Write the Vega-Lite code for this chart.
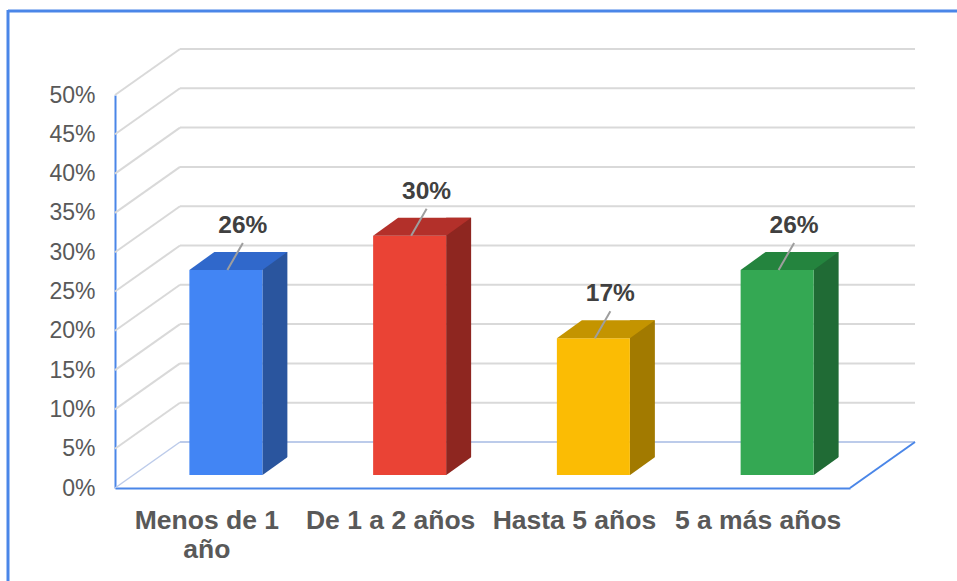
{
  "$schema": "https://vega.github.io/schema/vega-lite/v6.json",
  "width": 735,
  "height": 393,
  "autosize": "none",
  "padding": {"left": 115, "top": 95, "right": 107, "bottom": 93},
  "background": "white",
  "config": {
    "view": {"stroke": null},
    "font": "Liberation Sans",
    "axisY": {"labelOverlap": false, "grid": false, "ticks": false, "domainColor": "#4a86e8", "domainWidth": 2, "zindex": 1,
      "labelFont": "Liberation Sans", "labelFontSize": 23, "labelColor": "#595959", "labelPadding": 20, "title": null},
    "axisX": {"labelOverlap": false, "ticks": false, "domainColor": "#4a86e8", "domainWidth": 2, "zindex": 1, "title": null}
  },
  "datasets": {
    "bars": [
      {"cat": "Menos de 1 año", "v": 0.2609},
      {"cat": "De 1 a 2 años", "v": 0.3043},
      {"cat": "Hasta 5 años", "v": 0.1739},
      {"cat": "5 a más años", "v": 0.2609}
    ],
    "grid": [
      {"v": 0.05}, {"v": 0.1}, {"v": 0.15}, {"v": 0.2}, {"v": 0.25},
      {"v": 0.3}, {"v": 0.35}, {"v": 0.4}, {"v": 0.45}, {"v": 0.5}
    ],
    "floor": [{"v": 0}]
  },
  "resolve": {"scale": {"color": "independent"}},
  "encoding": {
    "y": {"field": "v", "type": "quantitative",
      "scale": {"domain": [0, 0.5], "nice": false, "zero": true},
      "axis": {"title": null, "values": [0, 0.05, 0.1, 0.15, 0.2, 0.25, 0.3, 0.35, 0.4, 0.45, 0.5], "format": ".0%", "labelOverlap": false, "tickCount": 11}}
  },
  "layer": [
    {
      "data": {"name": "grid"},
      "mark": {"type": "rule", "color": "#d9d9d9", "strokeWidth": 2, "xOffset": 65, "x2Offset": 65, "yOffset": -46, "y2Offset": -46},
      "encoding": {
        "x": {"datum": "Menos de 1 año", "bandPosition": 0, "type": "nominal"},
        "x2": {"datum": "5 a más años", "bandPosition": 1},
        "y2": {"field": "v"}
      }
    },
    {
      "data": {"name": "grid"},
      "mark": {"type": "rule", "color": "#d9d9d9", "strokeWidth": 2, "x2Offset": 65, "y2Offset": -46},
      "encoding": {
        "x": {"datum": "Menos de 1 año", "bandPosition": 0, "type": "nominal"},
        "x2": {"datum": "Menos de 1 año", "bandPosition": 0},
        "y2": {"field": "v"}
      }
    },
    {
      "data": {"name": "floor"},
      "mark": {"type": "rule", "color": "#bccbea", "strokeWidth": 2, "xOffset": 65, "x2Offset": 65, "yOffset": -46, "y2Offset": -46},
      "encoding": {
        "x": {"datum": "Menos de 1 año", "bandPosition": 0, "type": "nominal"},
        "x2": {"datum": "5 a más años", "bandPosition": 1},
        "y2": {"field": "v"}
      }
    },
    {
      "data": {"name": "floor"},
      "mark": {"type": "rule", "color": "#bccbea", "strokeWidth": 1.5, "x2Offset": 65, "y2Offset": -46},
      "encoding": {
        "x": {"datum": "Menos de 1 año", "bandPosition": 0, "type": "nominal"},
        "x2": {"datum": "Menos de 1 año", "bandPosition": 0},
        "y2": {"field": "v"}
      }
    },
    {
      "data": {"name": "floor"},
      "mark": {"type": "rule", "color": "#4a86e8", "strokeWidth": 2, "x2Offset": 65, "y2Offset": -46},
      "encoding": {
        "x": {"datum": "5 a más años", "bandPosition": 1, "type": "nominal"},
        "x2": {"datum": "5 a más años", "bandPosition": 1},
        "y2": {"field": "v"}
      }
    },
    {
      "data": {"name": "floor"},
      "mark": {"type": "rule", "color": "#4a86e8", "strokeWidth": 3, "xOffset": -107, "x2Offset": 107, "yOffset": -84},
      "encoding": {
        "x": {"datum": "Menos de 1 año", "bandPosition": 0, "type": "nominal"},
        "x2": {"datum": "5 a más años", "bandPosition": 1},
        "y": {"datum": 0.5, "type": "quantitative"}
      }
    },
    {
      "data": {"name": "floor"},
      "mark": {"type": "rule", "color": "#4a86e8", "strokeWidth": 3, "xOffset": -107, "yOffset": -85, "y2Offset": 95},
      "encoding": {
        "x": {"datum": "Menos de 1 año", "bandPosition": 0, "type": "nominal"},
        "y": {"datum": 0.5, "type": "quantitative"},
        "y2": {"datum": 0}
      }
    },
    {
      "data": {"name": "bars"},
      "mark": {"type": "bar", "width": 25, "xOffset": 68, "yOffset": -31, "y2Offset": -13},
      "encoding": {
        "x": {"field": "cat", "type": "nominal", "sort": null},
        "y2": {"datum": 0},
        "color": {"field": "cat", "type": "nominal", "legend": null,
          "scale": {"domain": ["Menos de 1 año", "De 1 a 2 años", "Hasta 5 años", "5 a más años"], "range": ["#2a559e", "#8e2620", "#a27a00", "#206b35"]}}
      }
    },
    {
      "data": {"name": "bars"},
      "mark": {"type": "point", "shape": "M 36 0.6 L 62.5 0.6 L 62.5 -18.5 Z", "size": 4, "filled": true, "opacity": 1, "fill": "white", "strokeWidth": 0, "xOffset": 19, "yOffset": -13},
      "encoding": {
        "x": {"field": "cat", "type": "nominal", "sort": null},
        "y": {"datum": 0, "type": "quantitative"}
      }
    },
    {
      "data": {"name": "bars"},
      "mark": {"type": "bar", "width": 73, "xOffset": 19, "yOffset": -13, "y2Offset": -13},
      "encoding": {
        "x": {"field": "cat", "type": "nominal", "sort": null},
        "y2": {"datum": 0},
        "color": {"field": "cat", "type": "nominal", "legend": null,
          "scale": {"domain": ["Menos de 1 año", "De 1 a 2 años", "Hasta 5 años", "5 a más años"], "range": ["#4285f4", "#ea4335", "#fbbc04", "#34a853"]}}
      }
    },
    {
      "data": {"name": "bars"},
      "mark": {"type": "point", "shape": "M -36.5 0 L 36.5 0 L 61.5 -18 L -11.5 -18 Z", "size": 4, "filled": true, "opacity": 1, "strokeWidth": 0, "xOffset": 19, "yOffset": -13},
      "encoding": {
        "x": {"field": "cat", "type": "nominal", "sort": null},
        "color": {"field": "cat", "type": "nominal", "legend": null,
          "scale": {"domain": ["Menos de 1 año", "De 1 a 2 años", "Hasta 5 años", "5 a más años"], "range": ["#3068cb", "#b3302a", "#c49400", "#24843e"]}}
      }
    },
    {
      "data": {"name": "bars"},
      "mark": {"type": "rule", "color": "#9e9e9e", "strokeWidth": 2, "xOffset": 20.5, "x2Offset": 36, "yOffset": -13, "y2Offset": -40},
      "encoding": {
        "x": {"field": "cat", "type": "nominal", "sort": null},
        "x2": {"field": "cat"},
        "y2": {"field": "v"}
      }
    },
    {
      "data": {"name": "bars"},
      "mark": {"type": "text", "font": "Liberation Sans", "fontWeight": "bold", "fontSize": 24.5, "color": "#404040", "baseline": "middle", "align": "center", "xOffset": 36, "yOffset": -57},
      "encoding": {
        "x": {"field": "cat", "type": "nominal", "sort": null,
          "scale": {"domain": ["Menos de 1 año", "De 1 a 2 años", "Hasta 5 años", "5 a más años"], "paddingInner": 0, "paddingOuter": 0},
          "axis": {"title": null, "labelAngle": 0, "labelAlign": "center",
            "labelFont": "Liberation Sans", "labelFontWeight": "bold", "labelFontSize": 26.5, "labelColor": "#595959",
            "labelPadding": 19, "labelLineHeight": 29, "labelBaseline": "top",
            "labelExpr": "datum.value == 'Menos de 1 año' ? ['Menos de 1', 'año'] : datum.value"}},
        "text": {"field": "v", "type": "quantitative", "format": ".0%"}
      }
    }
  ]
}
